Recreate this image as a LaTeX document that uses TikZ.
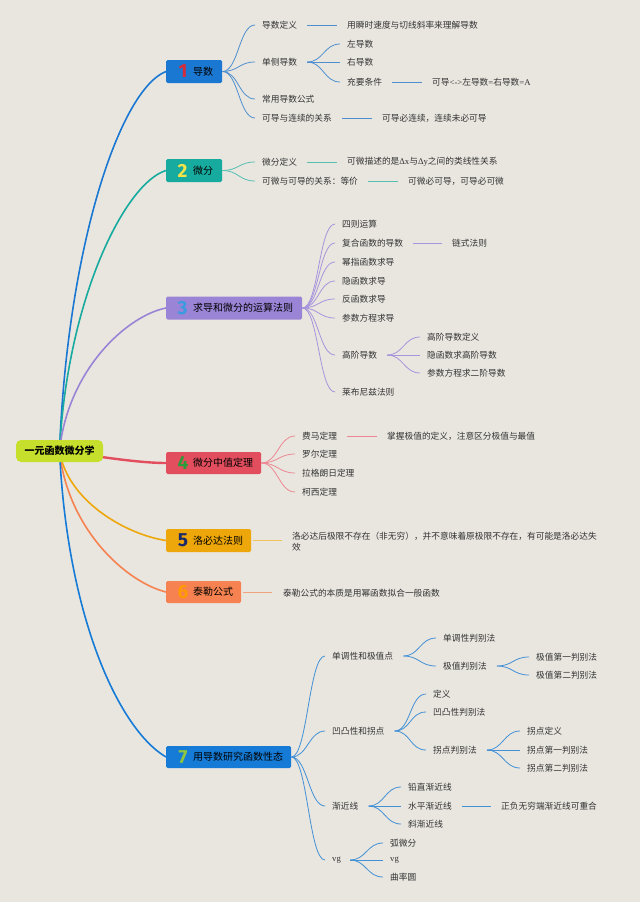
\documentclass[tikz,border=0pt]{standalone}
\usepackage{fontspec}
\setmainfont{Noto Sans CJK SC}
\newfontfamily\numf{Fira Sans}
\newfontfamily\serf{Liberation Serif}
\usetikzlibrary{calc}
\pgfdeclarelayer{back}
\pgfdeclarelayer{bg}
\pgfsetlayers{back,bg,main}
\definecolor{bgc}{HTML}{E9E6E0}
\definecolor{txt}{HTML}{333333}
\definecolor{rootc}{HTML}{C6DF2C}
\definecolor{c1}{HTML}{1A78D2}
\definecolor{c2}{HTML}{17AA9E}
\definecolor{c3}{HTML}{9A84D6}
\definecolor{c4}{HTML}{E24E5E}
\definecolor{c5}{HTML}{EDA70A}
\definecolor{c6}{HTML}{F58250}
\definecolor{c7}{HTML}{157BD6}
\definecolor{s1}{HTML}{4F8FCF}
\definecolor{s2}{HTML}{55BFB2}
\definecolor{s3}{HTML}{A795DC}
\definecolor{s4}{HTML}{EC8893}
\definecolor{s5}{HTML}{F2C35A}
\definecolor{s6}{HTML}{F2A27F}
\definecolor{s7}{HTML}{4290D5}
\definecolor{n1}{HTML}{D62B3A}
\definecolor{n2}{HTML}{F3E44A}
\definecolor{n3}{HTML}{3A9BE0}
\definecolor{n4}{HTML}{2E9A3A}
\definecolor{n5}{HTML}{1C2A6A}
\definecolor{n6}{HTML}{FF9A00}
\definecolor{n7}{HTML}{8EC63F}
\newcommand\brc[4][16]{\draw[subln,#2] (#3) .. controls +(#1,0) and +(-#1,0) .. ([xshift=-7pt]#4.west);}
\newcommand\lnk[3]{\draw[#1,line width=1pt] ([xshift=10pt]#2.east) -- ([xshift=-10pt]#3.west |- #2.east);}
\begin{document}
\begin{tikzpicture}[x=1pt,y=-1pt,
 topicbox/.style={rectangle, rounded corners=1.5pt, inner sep=0, anchor=west, minimum height=23pt},
 leaf/.style={anchor=west, inner sep=0, font=\fontsize{8.7}{11}\selectfont, text=txt},
 lbl/.style={anchor=west, inner sep=0, font=\fontsize{10}{12}\selectfont, text=black},
 num/.style={inner sep=0, font=\numf\bfseries\fontsize{19}{19}\selectfont},
 mainln/.style={line width=1.6pt},
 subln/.style={line width=0.8pt},
 rootbox/.style={fill=rootc, rounded corners=5pt, minimum width=87pt, minimum height=22pt, inner sep=0, font=\bfseries\fontsize{10}{12}\selectfont}]
\begin{pgfonlayer}{back}
\fill[bgc] (0,0) rectangle (640,902);
\end{pgfonlayer}
\useasboundingbox (0,0) rectangle (640,902);

% root
\node[rootbox] (root) at (59.5,451) {一元函数微分学};

% topic boxes
\node[topicbox, fill=c1, minimum width=56pt] (t1) at (166,71.5) {};
\node[num, text=n1] at (183,71.5) {1};
\node[lbl] (t1l) at (193,71.5) {导数};
\node[topicbox, fill=c2, minimum width=56pt] (t2) at (166,170.5) {};
\node[num, text=n2] at (182.5,170.5) {2};
\node[lbl] (t2l) at (193,170.5) {微分};
\node[topicbox, fill=c3, minimum width=136pt] (t3) at (166,308) {};
\node[num, text=n3] at (182.5,308) {3};
\node[lbl] (t3l) at (193,308) {求导和微分的运算法则};
\node[topicbox, fill=c4, minimum width=95pt, minimum height=22pt] (t4) at (166,463) {};
\node[num, text=n4] at (183,463) {4};
\node[lbl] (t4l) at (193,463) {微分中值定理};
\node[topicbox, fill=c5, minimum width=85pt] (t5) at (166,540.5) {};
\node[num, text=n5] at (183,540.5) {5};
\node[lbl] (t5l) at (193,540.5) {洛必达法则};
\node[topicbox, fill=c6, minimum width=75pt, minimum height=22pt] (t6) at (166,592) {};
\node[num, text=n6] at (183,592) {6};
\node[lbl] (t6l) at (193,592) {泰勒公式};
\node[topicbox, fill=c7, minimum width=125pt, minimum height=22pt] (t7) at (166,757) {};
\node[num, text=n7] at (183,757) {7};
\node[lbl] (t7l) at (193,757) {用导数研究函数性态};

% topic 1
\node[leaf] (a1) at (262,25) {导数定义};
\node[leaf] (a1x) at (347,25) {用瞬时速度与切线斜率来理解导数};
\node[leaf] (a2) at (262,62) {单侧导数};
\node[leaf] (a2a) at (347,44) {左导数};
\node[leaf] (a2b) at (347,62) {右导数};
\node[leaf] (a2c) at (347,82) {充要条件};
\node[leaf] (a2cx) at (432,82) {可导{\serf <->}左导数{\serf =}右导数{\serf =A}};
\node[leaf] (a3) at (262,99) {常用导数公式};
\node[leaf] (a4) at (262,118) {可导与连续的关系};
\node[leaf] (a4x) at (382,118) {可导必连续，连续未必可导};

% topic 2
\node[leaf] (b1) at (262,162) {微分定义};
\node[leaf] (b1x) at (347,162) {可微描述的是{\serf Δx}与{\serf Δy}之间的类线性关系};
\node[leaf] (b2) at (262,181) {可微与可导的关系：等价};
\node[leaf] (b2x) at (408,181) {可微必可导，可导必可微};

% topic 3
\node[leaf] (c1) at (342,224) {四则运算};
\node[leaf] (c2) at (342,243) {复合函数的导数};
\node[leaf] (c2x) at (452,243) {链式法则};
\node[leaf] (c3) at (342,262) {幂指函数求导};
\node[leaf] (c4) at (342,281) {隐函数求导};
\node[leaf] (c5) at (342,299) {反函数求导};
\node[leaf] (c6) at (342,318) {参数方程求导};
\node[leaf] (c7) at (342,355) {高阶导数};
\node[leaf] (c7a) at (427,337) {高阶导数定义};
\node[leaf] (c7b) at (427,355) {隐函数求高阶导数};
\node[leaf] (c7c) at (427,373) {参数方程求二阶导数};
\node[leaf] (c8) at (342,392) {莱布尼兹法则};

% topic 4
\node[leaf] (d1) at (302,436) {费马定理};
\node[leaf] (d1x) at (387,436) {掌握极值的定义，注意区分极值与最值};
\node[leaf] (d2) at (302,454) {罗尔定理};
\node[leaf] (d3) at (302,473) {拉格朗日定理};
\node[leaf] (d4) at (302,492) {柯西定理};

% topic 5, 6
\node[leaf, align=left] (e1) at (292,541.5) {洛必达后极限不存在（非无穷），并不意味着原极限不存在，有可能是洛必达失\\效};
\node[leaf] (f1) at (283,593) {泰勒公式的本质是用幂函数拟合一般函数};

% topic 7
\node[leaf] (g1) at (332,656) {单调性和极值点};
\node[leaf] (g1a) at (443,638) {单调性判别法};
\node[leaf] (g1b) at (443,666) {极值判别法};
\node[leaf] (g1b1) at (536,657) {极值第一判别法};
\node[leaf] (g1b2) at (536,675) {极值第二判别法};
\node[leaf] (g2) at (332,731) {凹凸性和拐点};
\node[leaf] (g2a) at (433,694) {定义};
\node[leaf] (g2b) at (433,712) {凹凸性判别法};
\node[leaf] (g2c) at (433,750) {拐点判别法};
\node[leaf] (g2c1) at (527,731) {拐点定义};
\node[leaf] (g2c2) at (527,750) {拐点第一判别法};
\node[leaf] (g2c3) at (527,768) {拐点第二判别法};
\node[leaf] (g3) at (332,806) {渐近线};
\node[leaf] (g3a) at (408,787) {铅直渐近线};
\node[leaf] (g3b) at (408,806) {水平渐近线};
\node[leaf] (g3bx) at (501,806) {正负无穷端渐近线可重合};
\node[leaf] (g3c) at (408,824) {斜渐近线};
\node[leaf] (g4) at (332,860) {\serf vg};
\node[leaf] (g4a) at (390,843) {弧微分};
\node[leaf] (g4b) at (390,860) {\serf vg};
\node[leaf] (g4c) at (390,877) {曲率圆};

\begin{pgfonlayer}{bg}
% main connectors
\draw[mainln, c1] (root.center) .. controls +(8,-205) and +(-46,18) .. (t1.west);
\draw[mainln, c2] (root.center) .. controls +(8,-155) and +(-40,12) .. (t2.west);
\draw[mainln, c3] (root.center) .. controls +(8,-80) and +(-40,8) .. (t3.west);
\draw[line width=2.4pt, c4] (root.center) .. controls +(30,4) and +(-30,0) .. (t4.west);
\draw[mainln, c5] (root.center) .. controls +(8,50) and +(-40,-6) .. (t5.west);
\draw[mainln, c6] (root.center) .. controls +(8,78) and +(-40,-10) .. (t6.west);
\draw[mainln, c7] (root.center) .. controls +(8,169) and +(-46,-27) .. (t7.west);
\end{pgfonlayer}

% topic 1 branches
\brc{s1}{t1.east}{a1}
\brc{s1}{t1.east}{a2}
\brc{s1}{t1.east}{a3}
\brc{s1}{t1.east}{a4}
\brc{s1}{[xshift=10pt]a2.east}{a2a}
\brc{s1}{[xshift=10pt]a2.east}{a2b}
\brc{s1}{[xshift=10pt]a2.east}{a2c}
\lnk{s1}{a1}{a1x}
\lnk{s1}{a2c}{a2cx}
\lnk{s1}{a4}{a4x}

% topic 2 branches
\brc{s2}{t2.east}{b1}
\brc{s2}{t2.east}{b2}
\lnk{s2}{b1}{b1x}
\lnk{s2}{b2}{b2x}

% topic 3 branches
\foreach \c in {c1,c2,c3,c4,c5,c6,c7,c8}{\brc{s3}{t3.east}{\c}}
\foreach \c in {c7a,c7b,c7c}{\brc{s3}{[xshift=10pt]c7.east}{\c}}
\lnk{s3}{c2}{c2x}

% topic 4 branches
\foreach \c in {d1,d2,d3,d4}{\brc{s4}{t4.east}{\c}}
\lnk{s4}{d1}{d1x}

% topic 5, 6
\draw[s5, line width=1pt] ([xshift=2pt]t5.east) -- ([xshift=-10pt]e1.west |- t5.east);
\draw[s6, line width=1pt] ([xshift=2pt]t6.east) -- ([xshift=-11pt]f1.west |- t6.east);

% topic 7 branches
\foreach \c in {g1,g2,g3,g4}{\brc{s7}{t7.east}{\c}}
\foreach \c in {g1a,g1b}{\brc{s7}{[xshift=10pt]g1.east}{\c}}
\foreach \c in {g1b1,g1b2}{\brc{s7}{[xshift=10pt]g1b.east}{\c}}
\foreach \c in {g2a,g2b,g2c}{\brc{s7}{[xshift=10pt]g2.east}{\c}}
\foreach \c in {g2c1,g2c2,g2c3}{\brc{s7}{[xshift=10pt]g2c.east}{\c}}
\foreach \c in {g3a,g3b,g3c}{\brc{s7}{[xshift=10pt]g3.east}{\c}}
\foreach \c in {g4a,g4b,g4c}{\brc{s7}{[xshift=9pt]g4.east}{\c}}
\lnk{s7}{g3b}{g3bx}
\end{tikzpicture}
\end{document}
